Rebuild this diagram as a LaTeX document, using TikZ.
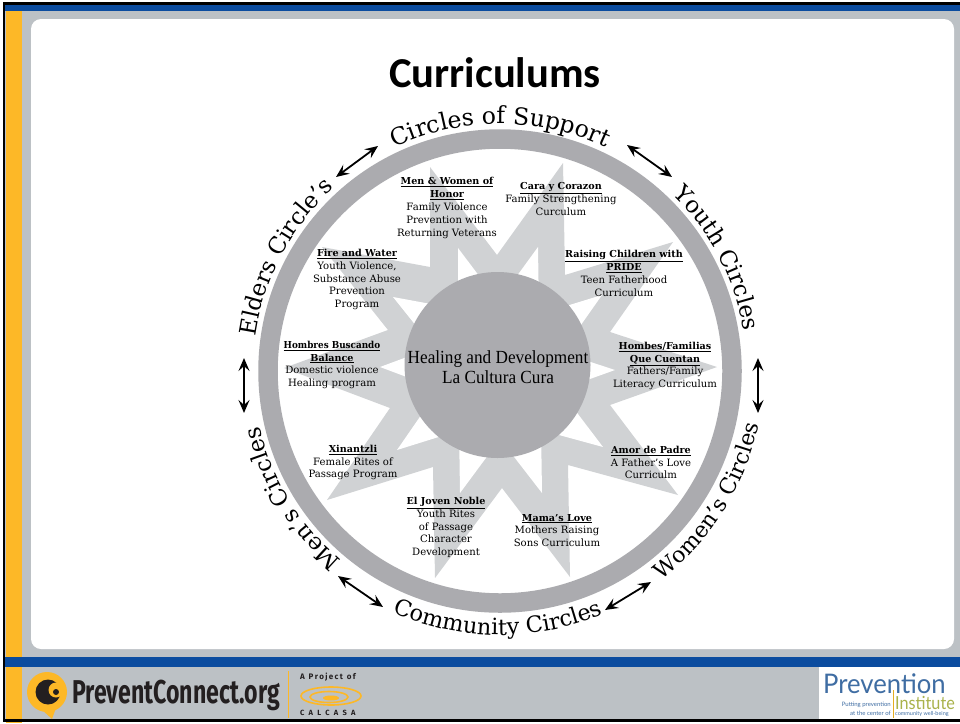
\documentclass[tikz,border=0pt]{standalone}
\usepackage{fontspec}
\usepackage{graphicx}
\usetikzlibrary{decorations.text,arrows.meta}
\setmainfont{DejaVu Serif}
\newfontfamily\arcf{DejaVu Serif}
\newfontfamily\lblf{DejaVu Serif}
\newfontfamily\midf{Liberation Serif}
\newfontfamily\titf{Carlito}
\newfontfamily\logof{Fira Sans}
\newfontfamily\pif{Lato}
\definecolor{framegrey}{HTML}{BCC1C5}
\definecolor{bandblue}{HTML}{0B4C9F}
\definecolor{gold}{HTML}{FDB827}
\definecolor{ringgrey}{HTML}{ABABAF}
\definecolor{stargrey}{HTML}{D0D2D4}
\definecolor{logoink}{HTML}{231F20}
\definecolor{piblue}{HTML}{3F6DA3}
\definecolor{pigreen}{HTML}{A9B24A}
\newcommand{\hd}[1]{{\fontsize{9.6}{12.85}\selectfont\textbf{\underline{#1}}}}
\newcommand{\arclabel}[5]{%
  \path[decorate,decoration={text along path,text align=center,
    text={|\arcf\fontsize{#5}{24}\selectfont|#4}}]
    (500,371) ++(canvas polar cs:angle=#1,radius=#3pt)
    arc[start angle=#1,end angle=#2,radius=#3pt];}
\tikzset{
  lbl/.style={align=center,inner sep=0pt,text=black,font=\lblf\fontsize{10.1}{12.85}\selectfont},
  twoway/.style={line width=1.8pt,black,{Stealth[length=13pt,width=11pt,inset=5pt]}-{Stealth[length=13pt,width=11pt,inset=5pt]}},
  notch/.style={fill=white,draw=none},
}
\begin{document}
\begin{tikzpicture}[x=1pt,y=-1pt]
\useasboundingbox (0,0) rectangle (960,723);
% slide frame
\fill[white] (0,0) rectangle (960,723);
\fill[framegrey] (5,4) rectangle (960,720);
\fill[gold] (6,10) rectangle (22,723);
\fill[bandblue] (5,4) rectangle (960,11);
\fill[white,rounded corners=10pt] (31,19) rectangle (954,649);
\fill[bandblue] (5,657) rectangle (960,667);
\fill[white] (819,667) rectangle (960,720);
\fill[black] (3,2) rectangle (5,722);
\fill[black] (3,2) rectangle (960,5);
\fill[black] (3,719) rectangle (960,722);
% title
\node[inner sep=0pt,font=\titf\bfseries\fontsize{42.6}{43}\selectfont] (title) at (495,73) {Curriculums};
% ring
\draw[ringgrey,line width=19.5pt] (500,371) circle[radius=232pt];
% star
\coordinate (t1) at (430,167); \coordinate (c1) at (497,255);
\coordinate (t2) at (563,163); \coordinate (c2) at (565,275);
\coordinate (t3) at (673,242); \coordinate (c3) at (610,332);
\coordinate (t4) at (717,367); \coordinate (c4) at (610,405);
\coordinate (t5) at (678,495); \coordinate (c5) at (568,465);
\coordinate (t6) at (570,577); \coordinate (c6) at (502,488);
\coordinate (t7) at (435,578); \coordinate (c7) at (433,467);
\coordinate (t8) at (327,500); \coordinate (c8) at (390,408);
\coordinate (t9) at (284,368); \coordinate (c9) at (388,330);
\coordinate (t10) at (322,247); \coordinate (c10) at (430,267);
\fill[stargrey] (t1)--(c1)--(t2)--(c2)--(t3)--(c3)--(t4)--(c4)--(t5)--(c5)--(t6)--(c6)--(t7)--(c7)--(t8)--(c8)--(t9)--(c9)--(t10)--(c10)--cycle;
\fill[notch] (458,248)--(458,308)--(498,301)--cycle;
\fill[notch] (538,247)--(498,302)--(539,314)--cycle;
\fill[notch] (602,295)--(537,315)--(564,349)--cycle;
\fill[notch] (615,370)--(551,349)--(551,393)--cycle;
\fill[notch] (603,447)--(562,393)--(537,429)--cycle;
\fill[notch] (542,493)--(541,426)--(501,440)--cycle;
\fill[notch] (460,493)--(500,439)--(459,426)--cycle;
\fill[notch] (397,450)--(461,430)--(435,395)--cycle;
\fill[notch] (380,367)--(444,391)--(442,344)--cycle;
\fill[notch] (393,297)--(433,347)--(458,309)--cycle;
% hub
\node[circle,fill=ringgrey,minimum size=186pt,inner sep=0pt] (hub) at (497.5,365) {};
\node[inner sep=0pt,align=center,font=\midf\fontsize{18.5}{20.5}\selectfont] (hubtext) at (498,367) {\scalebox{0.93}[1]{Healing and Development}\\\scalebox{0.93}[1]{La Cultura Cura}};
% labels
\node[lbl] (men) at (447,208) {\hd{Men \& Women of}\\\hd{Honor}\\Family Violence\\Prevention with\\Returning Veterans};
\node[lbl] (cara) at (561,199) {\hd{Cara y Corazon}\\Family Strengthening\\Curculum};
\node[lbl] (pride) at (624,273.5) {\hd{Raising Children with}\\\hd{PRIDE}\\Teen Fatherhood\\Curriculum};
\node[lbl] (homb) at (665,366) {\hd{Hombes/Familias}\\\hd{Que Cuentan}\\Fathers/Family\\Literacy Curriculum};
\node[lbl] (amor) at (651,462.5) {\hd{Amor de Padre}\\A Father’s Love\\Curriculm};
\node[lbl] (mama) at (557,530.5) {\hd{Mama’s Love}\\Mothers Raising\\Sons Curriculum};
\node[lbl] (joven) at (446,527.5) {\hd{El Joven Noble}\\Youth Rites\\of Passage\\Character\\Development};
\node[lbl] (xin) at (353,462.5) {\hd{Xinantzli}\\Female Rites of\\Passage Program};
\node[lbl] (busc) at (332,365) {\scalebox{0.92}[1]{\hd{Hombres Buscando}}\\\hd{Balance}\\Domestic violence\\Healing program};
\node[lbl] (fire) at (357,279.5) {\hd{Fire and Water}\\Youth Violence,\\Substance Abuse\\Prevention\\Program};
% curved labels
\arclabel{125}{55}{247}{Circles of Support}{23.6}
\arclabel{60}{-5}{247}{Youth Circles}{23}
\arclabel{-66}{2}{264}{Women’s Circles}{22}
\arclabel{-125}{-56}{264}{Community Circles}{22.4}
\arclabel{-115}{-182}{247}{Men’s Circles}{23}
\arclabel{186}{118}{247}{Elders Circle’s}{23}
% arrows between the circles
\coordinate (a1a) at (336,177); \coordinate (a1b) at (378,146);
\coordinate (a2a) at (627,145); \coordinate (a2b) at (672,177);
\coordinate (a3a) at (758,358); \coordinate (a3b) at (758,413);
\coordinate (a4a) at (651,582); \coordinate (a4b) at (605,610);
\coordinate (a5a) at (338,576); \coordinate (a5b) at (383,607);
\coordinate (a6a) at (244,358); \coordinate (a6b) at (244,413);
\draw[twoway] (a1a) -- (a1b);
\draw[twoway] (a2a) -- (a2b);
\draw[twoway] (a3a) -- (a3b);
\draw[twoway] (a4a) -- (a4b);
\draw[twoway] (a5a) -- (a5b);
\draw[twoway] (a6a) -- (a6b);
% PreventConnect logo
\fill[gold] (47,692) circle[radius=20pt];
\fill[gold] (40,708) -- (52,719) -- (56,708) -- cycle;
\fill[logoink] (48,692) circle[radius=12.5pt];
\fill[gold] (56,690) circle[radius=7.5pt];
\fill[logoink] (56,692) circle[radius=3pt];
\node[inner sep=0pt,anchor=west,text=logoink,font=\logof\bfseries\fontsize{33}{33}\selectfont] (pc) at (72,695) {\scalebox{0.70}[1]{PreventConnect.org}};
\fill[gold] (287.5,671) rectangle (289,718);
\node[inner sep=0pt,anchor=west,text=logoink,font=\logof\bfseries\fontsize{8}{8}\selectfont] (proj) at (300,677) {A\ \ P\,r\,o\,j\,e\,c\,t\ \ o\,f};
\node[inner sep=0pt,anchor=west,text=logoink,font=\logof\bfseries\fontsize{7.5}{8}\selectfont] (cal) at (300,713) {C\hspace{4.2pt}A\hspace{4.2pt}L\hspace{4.2pt}C\hspace{4.2pt}A\hspace{4.2pt}S\hspace{4.2pt}A};
\draw[gold,line width=1.6pt] (331,696) ellipse[x radius=30pt,y radius=9pt];
\draw[gold,line width=1.6pt] (329,697) ellipse[x radius=19pt,y radius=5.5pt];
\fill[gold] (331,698) ellipse[x radius=8pt,y radius=2.5pt];
% Prevention Institute logo
\node[inner sep=0pt,anchor=west,text=piblue,font=\pif\fontsize{27}{27}\selectfont] (pi1) at (823,684) {\scalebox{0.95}[1]{Prevention}};
\fill[gold!80!olive] (893,690) rectangle (894,718);
\node[inner sep=0pt,anchor=west,text=pigreen,font=\pif\fontsize{18}{18}\selectfont] (pi2) at (895,703) {\scalebox{0.9}[1]{Institute}};
\node[inner sep=0pt,anchor=east,align=right,text=piblue,font=\pif\fontsize{6}{9.5}\selectfont] (pi3) at (891,709) {Putting prevention\\at the center of};
\node[inner sep=0pt,anchor=west,text=piblue,font=\pif\fontsize{5.5}{7}\selectfont] (pi4) at (895,714) {community well-being};
\end{tikzpicture}
\end{document}
